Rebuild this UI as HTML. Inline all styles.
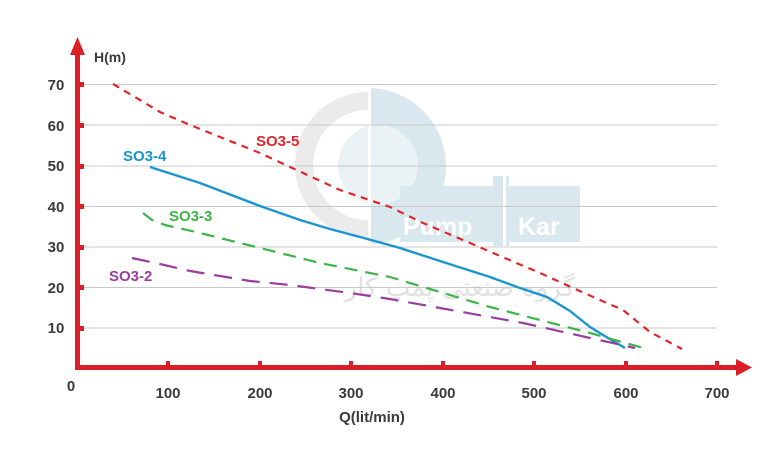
<!DOCTYPE html>
<html><head><style>
html,body{margin:0;padding:0;background:#fff;}
svg text{font-family:"Liberation Sans",sans-serif;font-weight:bold;}
</style></head><body>
<svg width="779" height="450" viewBox="0 0 779 450" xmlns="http://www.w3.org/2000/svg">
<!-- watermark -->
<g opacity="0.5">
<circle cx="368" cy="165" r="64" fill="none" stroke="#d8d8d8" stroke-width="18"/>
<path d="M368 88 A78 78 0 0 1 368 244 Z" fill="#b3d2de"/>
<circle cx="378" cy="165" r="40" fill="#d6e6ec"/>
<rect x="368" y="86" width="3" height="162" fill="#fff"/>
<rect x="400" y="186" width="180" height="56" fill="#b3d2de"/>
<rect x="493" y="176" width="16" height="70" fill="#b3d2de"/>
<rect x="503" y="176" width="3" height="70" fill="#fff"/>
<text x="403" y="235" font-size="25" fill="#fff">Pump</text>
<text x="518" y="235" font-size="25" fill="#fff">Kar</text>
<text x="575" y="296" font-size="26" fill="#c4c4c4" text-anchor="end" style="font-family:'DejaVu Sans',sans-serif;font-weight:normal">گروه صنعتی پمپ کار</text>
</g>
<!-- grid -->
<g stroke="#c8c8c8" stroke-width="1">
<line x1="80" x2="717" y1="84.5" y2="84.5"/><line x1="80" x2="717" y1="125" y2="125"/>
<line x1="80" x2="717" y1="166" y2="166"/><line x1="80" x2="717" y1="206.5" y2="206.5"/>
<line x1="80" x2="717" y1="247" y2="247"/><line x1="80" x2="717" y1="287.5" y2="287.5"/>
<line x1="80" x2="717" y1="328" y2="328"/>
</g>
<!-- axes -->
<g fill="#dc1f26">
<rect x="75" y="52" width="5" height="318"/>
<polygon points="77.5,37 70,55 85,55"/>
<rect x="75" y="365" width="665" height="5"/>
<polygon points="752,367.5 736,359 736,376"/>
<rect x="80" y="82" width="4" height="5"/><rect x="80" y="123" width="4" height="5"/><rect x="80" y="164" width="4" height="5"/>
<rect x="80" y="204" width="4" height="5"/><rect x="80" y="245" width="4" height="5"/><rect x="80" y="285" width="4" height="5"/><rect x="80" y="326" width="4" height="5"/>
<rect x="166" y="361" width="4" height="5"/><rect x="258" y="361" width="4" height="5"/><rect x="349" y="361" width="4" height="5"/>
<rect x="441" y="361" width="4" height="5"/><rect x="532" y="361" width="4" height="5"/><rect x="624" y="361" width="4" height="5"/><rect x="715" y="361" width="4" height="5"/>
</g>
<g font-size="15" fill="#3a3a3a">
<text x="94" y="62" font-size="14">H(m)</text>
<g text-anchor="middle">
<text x="56" y="90">70</text><text x="56" y="131">60</text><text x="56" y="171">50</text><text x="56" y="212">40</text>
<text x="56" y="252">30</text><text x="56" y="293">20</text><text x="56" y="333">10</text>
<text x="71" y="391">0</text>
<text x="168" y="398">100</text><text x="260" y="398">200</text><text x="351" y="398">300</text><text x="443" y="398">400</text>
<text x="534" y="398">500</text><text x="626" y="398">600</text><text x="717" y="398">700</text>
<text x="372" y="422">Q(lit/min)</text>
</g></g>
<!-- curves -->
<g fill="none" stroke-width="2.2" stroke-linejoin="round">
<polyline points="113,84 140,100 160,112 183,122 220,137 260,153 290,167 340,190 390,207 423,223 470,243 500,256 540,273 573,288 600,300 623,310 650,332 682,349" stroke="#e0262c" stroke-dasharray="7,6"/>
<polyline points="150,167 200,183 260,206 300,220 330,229 360,237 400,248 443,262 490,277 520,288 547,297 570,311 590,327 608,338 625,348" stroke="#1b95d2" stroke-width="2.4"/>
<polyline points="143,213 152,220 165,225 200,233 260,248 320,263 390,277 440,292 490,307 540,320 590,333 647,349" stroke="#3db449" stroke-dasharray="13,8"/>
<polyline points="132,258 160,264 190,271 250,281 290,285 350,293 390,299 440,308 523,323 590,338 635,348" stroke="#9b3d9e" stroke-dasharray="18,10"/>
</g>
<g font-size="15">
<text x="256" y="146" fill="#e0262c">SO3-5</text>
<text x="123" y="161" fill="#1b95d2">SO3-4</text>
<text x="169" y="221" fill="#3db449">SO3-3</text>
<text x="109" y="281" fill="#9b3d9e">SO3-2</text>
</g>
</svg>
</body></html>
